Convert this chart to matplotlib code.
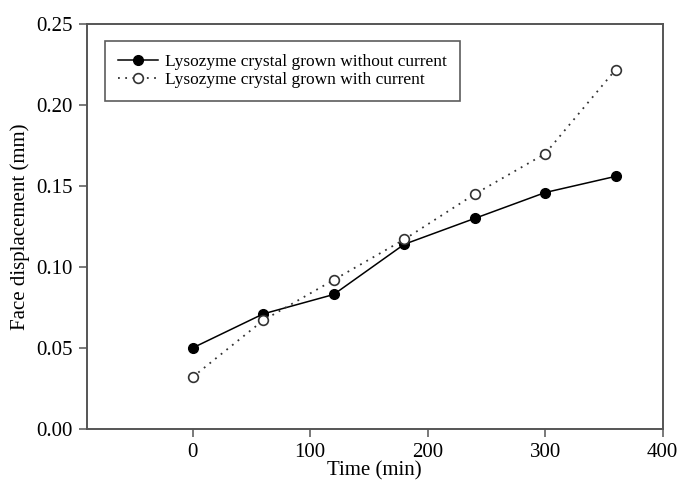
import numpy as np
import matplotlib
matplotlib.use("Agg")
import matplotlib.pyplot as plt

time_min = [0, 60, 120, 180, 240, 300, 360]
without_current = [0.050, 0.071, 0.083, 0.114, 0.130, 0.146, 0.156]
with_current = [0.032, 0.067, 0.092, 0.117, 0.145, 0.170, 0.222]

plt.rcParams['font.family'] = ['Liberation Serif', 'DejaVu Serif']

fig = plt.figure(figsize=(6.79, 4.84), dpi=100)
ax = fig.add_axes([0.128, 0.114, 0.848, 0.836])

ax.plot(time_min, without_current, color='black', linestyle='-', linewidth=1.1,
        marker='o', markersize=7, markerfacecolor='black', markeredgecolor='black',
        label='Lysozyme crystal grown without current')
ax.plot(time_min, with_current, color='#333333', linestyle=(0, (1, 3)), linewidth=1.3,
        marker='o', markersize=7, markerfacecolor='white', markeredgecolor='#333333',
        markeredgewidth=1.2, label='Lysozyme crystal grown with current')

ax.set_xlim(-90, 400)
ax.set_ylim(0, 0.25)
ax.set_xticks([0, 100, 200, 300, 400])
ax.set_yticks([0.00, 0.05, 0.10, 0.15, 0.20, 0.25])
ax.set_yticklabels([f"{v:.2f}" for v in ax.get_yticks()])

for s in ax.spines.values():
    s.set_color('#555555')
    s.set_linewidth(1.4)
ax.tick_params(direction='out', length=6, width=1.1, color='#555555',
               labelsize=15, pad=4)

ax.set_xlabel('Time (min)', fontsize=15, labelpad=0)
ax.set_ylabel('Face displacement (mm)', fontsize=15, labelpad=5)

leg = ax.legend(loc='upper left', bbox_to_anchor=(0.031, 0.959), fontsize=12.5,
                frameon=True, fancybox=False, edgecolor='#333333',
                handlelength=2.3, handletextpad=0.4, borderpad=0.75,
                labelspacing=0.1, borderaxespad=0)
leg.get_frame().set_linewidth(1.2)

fig.savefig('out.png', dpi=100)
